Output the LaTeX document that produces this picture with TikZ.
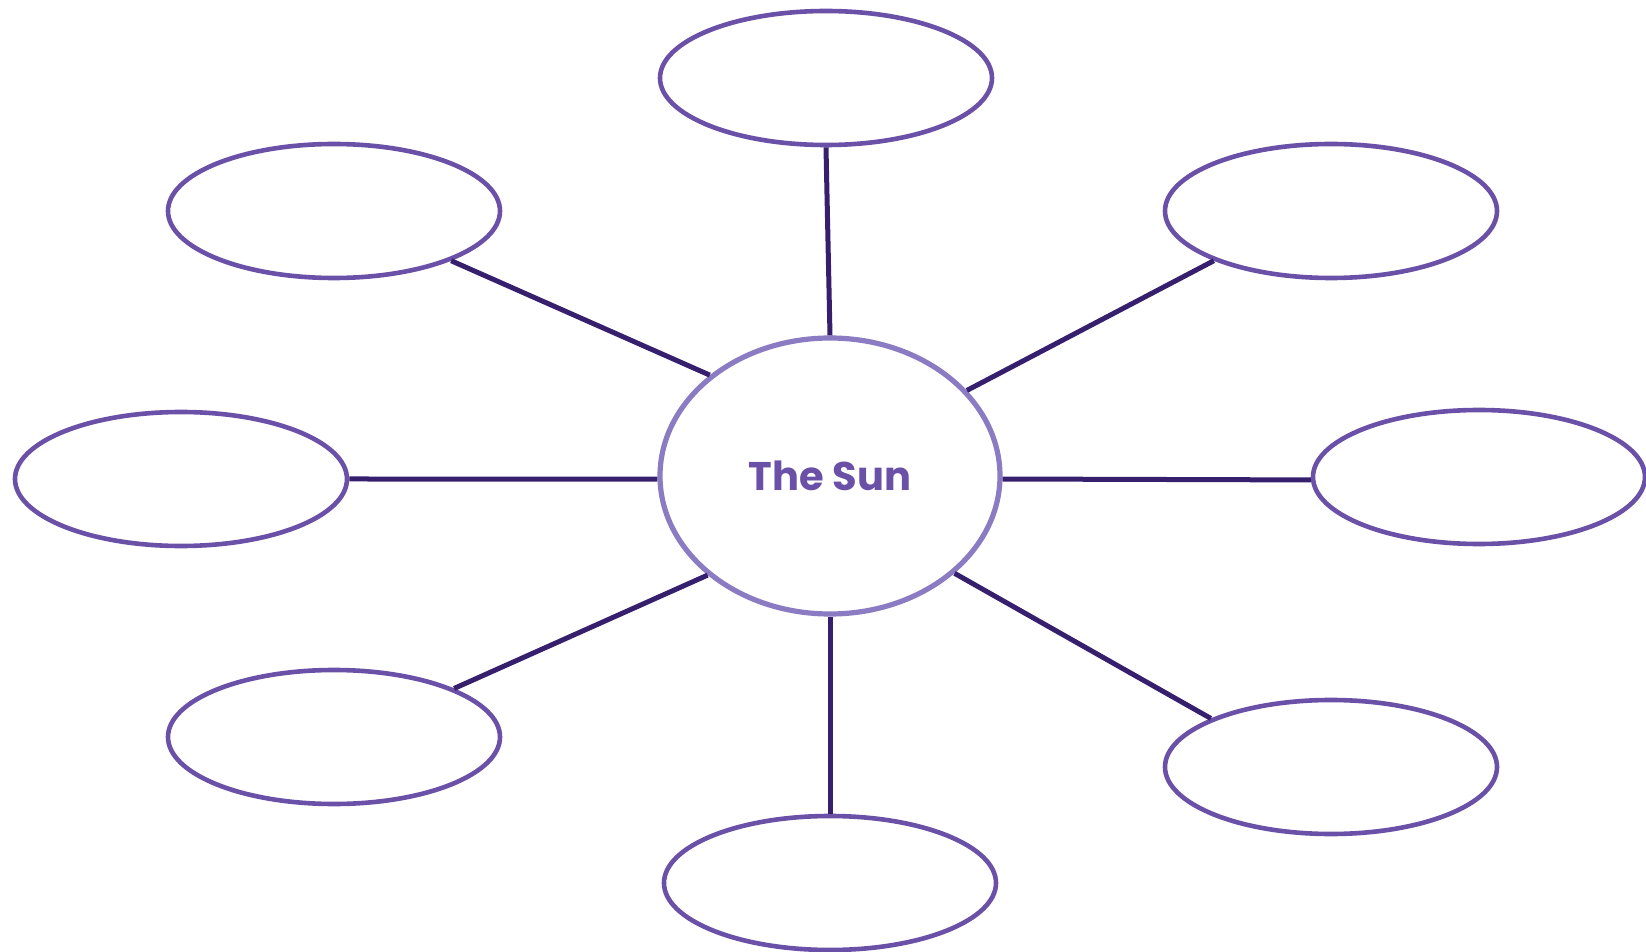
\documentclass[tikz,border=0pt]{standalone}
\usepackage{fontspec}
\setmainfont{Poppins}
\usetikzlibrary{shapes.geometric}
\definecolor{ringc}{HTML}{6A50A7}
\definecolor{sunc}{HTML}{8B7BC2}
\definecolor{linec}{HTML}{36206E}
\tikzset{
  bubble/.style={ellipse, draw=ringc, line width=2.3pt, fill=white, inner sep=0pt,
    minimum width=166pt, minimum height=67pt},
  sun/.style={ellipse, draw=sunc, line width=2.6pt, fill=white, inner sep=0pt,
    minimum width=170pt, minimum height=138pt, text=ringc,
    font=\fontsize{20pt}{24pt}\selectfont\bfseries},
  spoke/.style={draw=linec, line width=2.5pt}
}
\begin{document}
\begin{tikzpicture}[x=0.5pt,y=-0.5pt]
\useasboundingbox (0,0) rectangle (1646,952);
\node[sun] (c) at (830,476) {\raisebox{-2pt}{The Sun}};
\node[bubble] (t) at (826,78) {};
\node[bubble] (ul) at (334,211) {};
\node[bubble] (ur) at (1331,211) {};
\node[bubble] (l) at (181,479) {};
\node[bubble] (r) at (1479,477) {};
\node[bubble] (ll) at (334,737) {};
\node[bubble] (lr) at (1331,767) {};
\node[bubble] (b) at (830,883) {};
\draw[spoke] (t.south) -- (c.north);
\draw[spoke] (ul.-23) -- (c.140.6);
\draw[spoke] (ur.-157) -- (c.32.2);
\draw[spoke] (l.0.35) -- (c.-179.3);
\draw[spoke] (r.-179.55) -- (c.-1.35);
\draw[spoke] (ll.22.3) -- (c.-141);
\draw[spoke] (lr.158.3) -- (c.-38.5);
\draw[spoke] (b.north) -- (c.south);
\end{tikzpicture}
\end{document}
